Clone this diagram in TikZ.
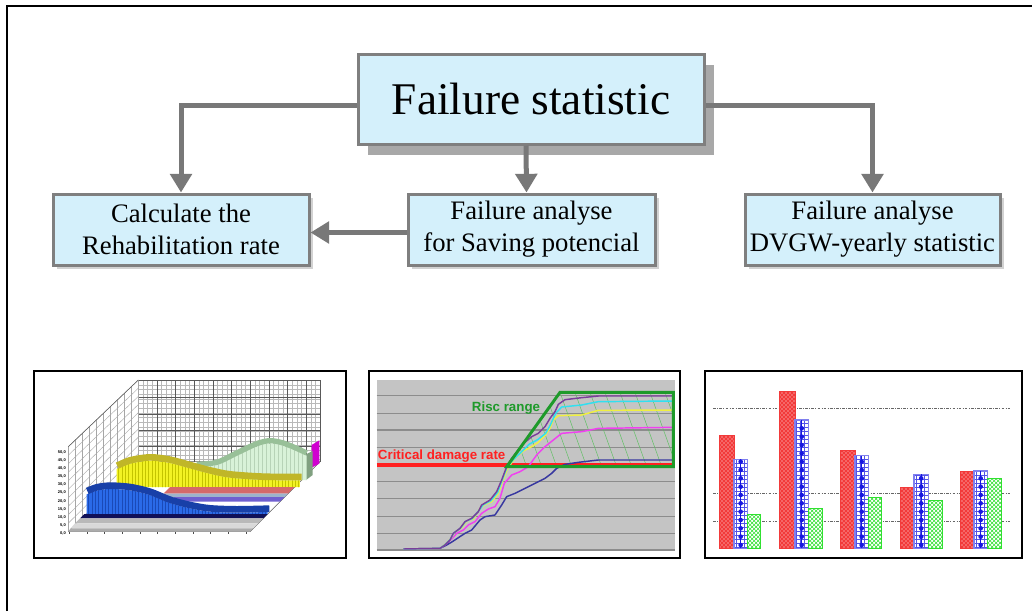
\documentclass[tikz,border=0pt]{standalone}
\usepackage{fontspec}
\setmainfont{Liberation Serif}
\setsansfont{Liberation Sans}
\usetikzlibrary{arrows.meta,calc,patterns,shadows}
\definecolor{boxfill}{HTML}{D4F0FB}
\definecolor{boxborder}{HTML}{7F7F7F}
\definecolor{arrowgray}{HTML}{787878}
\definecolor{shadowgray}{HTML}{A8A8A8}
\definecolor{lgface}{HTML}{D8F2D8}
\definecolor{lgtop}{HTML}{98C098}
\definecolor{lgend}{HTML}{80A080}
\definecolor{yface}{HTML}{F2F224}
\definecolor{ystripe}{HTML}{C4C400}
\definecolor{ytop}{HTML}{C0B628}
\definecolor{salmon}{HTML}{D46A6A}
\definecolor{bgray}{HTML}{9CB4CC}
\definecolor{bpurple}{HTML}{7060D0}
\definecolor{bface}{HTML}{2A6AE8}
\definecolor{bstripe}{HTML}{1A4AB8}
\definecolor{btop}{HTML}{1840A8}
\definecolor{navyb}{HTML}{101058}
\definecolor{mag}{HTML}{D000D0}
\definecolor{ctwogray}{HTML}{C4C4C4}
\definecolor{ctwogrid}{HTML}{8C8C8C}
\definecolor{riscgreen}{HTML}{1E9A2A}
\definecolor{hatchgreen}{HTML}{5CC060}
\definecolor{cpurple}{HTML}{7A3F9A}
\definecolor{ccyan}{HTML}{30E0F0}
\definecolor{cyellow}{HTML}{F0F040}
\definecolor{cmag}{HTML}{F040F0}
\definecolor{cnavy}{HTML}{3838A0}
\definecolor{cred}{HTML}{FF2020}
\definecolor{bred}{HTML}{F23A3A}
\definecolor{bblue}{HTML}{1818E0}
\definecolor{bgreen}{HTML}{30E030}
\tikzset{
  fbox/.style={draw=boxborder, line width=2.25pt, fill=boxfill, inner sep=0pt, align=center},
  sbox/.style={fbox, minimum height=53.25pt, font=\fontsize{20}{24}\selectfont,
    drop shadow={shadow xshift=3pt, shadow yshift=-3pt, fill=gray!35, opacity=1}},
  arr/.style={draw=arrowgray, line width=3.75pt, -{Triangle[length=14pt,width=16pt]}},
  frame/.style={draw=black, line width=1.5pt},
  gridthin/.style={gray!55, line width=0.25pt},
  gridthick/.style={black!65, line width=0.4pt},
  curve/.style={line width=1.1pt, line join=round},
  redbar/.style={preaction={fill=bred}, pattern=crosshatch dots, pattern color=white, draw=bred, line width=0.6pt},
  bluebar/.style={preaction={fill=white}, pattern=grid, pattern color=bblue!75, draw=bblue!55, line width=1pt},
  greenbar/.style={preaction={fill=white}, pattern=crosshatch, pattern color=bgreen, draw=bgreen, line width=0.6pt},
  dotline/.style={black!60, line width=0.7pt, dash pattern=on 2pt off 1pt on 0.6pt off 1pt},
}
\begin{document}
\begin{tikzpicture}[x=0.75pt,y=-0.75pt]
\useasboundingbox (0,0) rectangle (1032,611);
\fill[white] (0,0) rectangle (1032,611);
\draw[line width=1.5pt] (7,611) -- (7,6) -- (1032,6);

% ---------- flow chart ----------
\node[fbox, minimum width=259.5pt, minimum height=67.5pt, font=\fontsize{34}{40}\selectfont,
  drop shadow={shadow xshift=7.5pt, shadow yshift=-8pt, fill=shadowgray, opacity=1}] (main) at (531,99) {Failure statistic};
\node[sbox, minimum width=192pt] (calc) at (181,229.5) {Calculate the\\Rehabilitation rate};
\node[sbox, minimum width=185.25pt] (sav) at (531.5,229.5) {Failure analyse\\for Saving potencial};
\node[sbox, minimum width=191.25pt] (dvgw) at (872.5,229.5) {Failure analyse\\DVGW-yearly statistic};

\draw[arr] ($(main.west)+(0,6)$) -| (calc.north);
\draw[arr] ($(main.east)+(0,6)$) -| (dvgw.north);
\draw[arr] ($(main.south)+(-5,0)$) -- ($(sav.north)+(-5,0)$);
\draw[arr] ($(sav.west)+(0,3)$) -- ($(calc.east)+(0,3)$);

% ---------- chart 1 : 3D area chart ----------
\begin{scope}[shift={(30,365)},scale=1/3]
  % back wall
  \foreach \x in {325,339,...,870} \draw[gridthin] (\x,45)--(\x,290);
  \foreach \y in {59,73,...,290} \draw[gridthin] (325,\y)--(870,\y);
  \foreach \x in {325,381,...,870} \draw[gridthick] (\x,45)--(\x,290);
  \foreach \y in {45,97,148,197,245} \draw[gridthick] (325,\y)--(870,\y);
  \draw[gridthick] (870,45)--(870,290);
  % left wall
  \foreach \t in {0,0.1,0.2,0.3,0.4,0.5,0.6,0.7,0.8,0.9,1} \draw[gray!70,line width=0.3pt] (115,{245+\t*255}) -- (325,{45+\t*245});
  \foreach \k in {0,...,10} \draw[gray!70,line width=0.3pt] ({115+\k*21},{245-\k*20}) -- ({115+\k*21},{500-\k*21});
  \draw[gridthick] (115,245)--(325,45);
  % floor
  \draw[gridthick] (115,500)--(660,500)--(870,290)--(325,290);
  \foreach \k in {0,...,10} \draw[black!70,line width=0.4pt] ({118+\k*53},500)--({118+\k*53},507);
  % magenta back piece
  \fill[mag] (845,240)--(868,226)--(868,296)--(845,308)--cycle;
  \fill[mag] (492,300)--(512,295)--(512,306)--(492,310)--cycle;
  % light green series
  \fill[lgend] (828,268)--(848,258)--(848,330)--(828,345)--cycle;
  \begin{scope}
    \clip plot[smooth] coordinates {(500,306)(560,300)(620,272)(680,244)(720,235)(760,242)(800,258)(830,272)} -- (830,345) -- (500,345) -- cycle;
    \fill[lgface] (490,220) rectangle (840,350);
    \foreach \x in {505,517,...,830} \draw[lgtop!70,line width=0.3pt] (\x,220)--(\x,350);
  \end{scope}
  \draw[lgtop,line width=4pt] plot[smooth] coordinates {(500,298)(560,292)(620,264)(680,236)(720,227)(760,234)(800,250)(830,264)};
  % yellow series
  \begin{scope}
    \clip plot[smooth] coordinates {(260,312)(300,296)(360,287)(420,294)(480,310)(540,326)(600,338)(700,345)(810,346)} -- (810,366) -- (260,366) -- cycle;
    \fill[yface] (250,270) rectangle (820,370);
    \foreach \x in {266,276,...,810} \draw[ystripe,line width=0.35pt] (\x,270)--(\x,370);
  \end{scope}
  \draw[ytop,line width=5pt] plot[smooth] coordinates {(262,302)(300,286)(360,277)(420,284)(480,300)(540,316)(600,328)(700,335)(815,336)};
  % flat bands
  \fill[salmon] (400,386)--(420,366)--(794,366)--(774,386)--cycle;
  \fill[bgray] (390,396)--(400,386)--(774,386)--(764,396)--cycle;
  \fill[bpurple] (420,410)--(434,396)--(764,396)--(750,410)--cycle;
  % blue series
  \begin{scope}
    \clip plot[smooth] coordinates {(170,388)(200,377)(240,372)(300,376)(360,390)(420,414)(480,430)(540,440)(620,443)(713,441)} -- (713,447) -- (170,447) -- cycle;
    \fill[bface] (160,360) rectangle (720,450);
    \foreach \x in {176,186,...,713} \draw[bstripe,line width=0.35pt] (\x,360)--(\x,450);
  \end{scope}
  \draw[btop,line width=5pt] plot[smooth] coordinates {(172,378)(200,367)(240,362)(300,366)(360,380)(420,404)(480,420)(540,430)(620,433)(718,431)};
  \fill[navyb] (150,460)--(163,447)--(713,447)--(700,460)--cycle;
  \fill[gray!55] (135,475)--(150,460)--(700,460)--(685,475)--cycle;
  \fill[gray!30] (122,490)--(135,475)--(685,475)--(670,490)--cycle;
  \fill[gray!65] (115,500)--(122,490)--(670,490)--(660,500)--cycle;
  % y axis labels
  \foreach \v [count=\i from 0] in {50,45,40,35,30,25,20,15,10,5,0}
    \node[font=\sffamily\bfseries\fontsize{3}{3.5}\selectfont, inner sep=0pt, anchor=east] (ylab\i) at (108,{262+\i*24.3}) {\v,0};
  \draw[frame] (12,18) rectangle (948,580);
\end{scope}

% ---------- chart 2 : risk range ----------
\begin{scope}[shift={(365,365)},scale=1/3]
  \fill[ctwogray] (35,45) rectangle (930,556);
  \foreach \y in {92,145,195,248,350,400,455,505,555} \draw[ctwogrid,line width=1pt] (35,\y)--(930,\y);
  \begin{scope}
    \clip (425,305)--(585,82)--(925,82)--(925,305)--cycle;
    \foreach \x in {360,405,...,1000} \draw[hatchgreen,line width=0.35pt] (\x,82)--({\x+80},305);
  \end{scope}
  \draw[cred,line width=2.4pt] (35,300)--(925,300);
  \draw[curve,cnavy] (115,552)--(225,550)--(245,540)--(262,530)--(280,518)--(300,505)--(320,495)--(345,465)--(360,455)--(390,450)--(410,420)--(425,395)--(450,385)--(480,370)--(510,355)--(540,340)--(560,325)--(575,310)--(600,298)--(640,292)--(700,285)--(925,285);
  \draw[curve,cmag] (115,552)--(225,550)--(245,535)--(262,520)--(275,505)--(295,495)--(310,480)--(330,470)--(350,445)--(370,432)--(390,425)--(405,400)--(418,355)--(440,330)--(465,320)--(490,305)--(515,270)--(540,245)--(565,225)--(590,205)--(650,200)--(700,190)--(925,187);
  \draw[curve,cyellow] (115,552)--(225,550)--(240,538)--(258,520)--(270,500)--(290,488)--(305,468)--(325,462)--(345,430)--(360,418)--(380,410)--(400,385)--(412,350)--(428,310)--(450,280)--(475,258)--(500,245)--(520,232)--(540,212)--(555,190)--(565,165)--(580,152)--(650,150)--(700,136)--(925,135);
  \draw[curve,ccyan] (115,552)--(225,550)--(240,539)--(256,523)--(267,503)--(287,489)--(302,469)--(322,461)--(342,436)--(355,419)--(378,407)--(398,382)--(411,347)--(426,307)--(445,284)--(468,262)--(492,238)--(518,224)--(542,205)--(556,180)--(572,145)--(590,126)--(650,120)--(700,110)--(925,108);
  \draw[curve,cpurple] (115,552)--(225,550)--(240,540)--(255,525)--(265,505)--(285,490)--(300,470)--(320,460)--(340,440)--(350,420)--(375,405)--(395,380)--(410,345)--(425,305)--(440,280)--(460,255)--(480,232)--(500,215)--(520,205)--(540,185)--(555,160)--(570,140)--(580,118)--(600,104)--(650,98)--(700,93)--(925,93);
  \draw[riscgreen,line width=2.2pt,line join=miter] (425,305)--(585,82)--(925,82)--(925,305)--cycle;
  \node[font=\sffamily\bfseries\fontsize{10}{12}\selectfont, text=cred, inner sep=0pt, anchor=base west] (crit) at (38,284) {Critical damage rate};
  \node[font=\sffamily\bfseries\fontsize{10}{12}\selectfont, text=riscgreen, inner sep=0pt, anchor=base west] (risc) at (320,138) {Risc range};
  \draw[frame] (12,18) rectangle (945,580);
\end{scope}

% ---------- chart 3 : bar chart ----------
\begin{scope}[shift={(700,365)},scale=1/3]
  \foreach \y in {130,385,468} \draw[dotline] (40,\y)--(930,\y);
  \foreach \a/\b/\t in {58/102/210, 238/285/80, 420/465/256, 600/642/368, 780/822/318}
    \path[redbar] (\a,550) rectangle (\b,\t);
  \foreach \a/\b/\t in {102/142/283, 285/325/165, 465/505/272, 642/685/328, 822/862/318}{
    \path[bluebar] (\a,550) rectangle (\b,\t);
    \begin{scope}
      \clip (\a,550) rectangle (\b,\t);
      \pgfmathsetmacro\cx{(\a+\b)/2}
      \pgfmathsetmacro\ytop{\t+6}
      \foreach \yy in {540,515,...,\ytop} \fill[bblue] (\cx,\yy) circle[radius=7];
      \draw[bblue,line width=0.5pt] (\cx,550)--(\cx,\t);
    \end{scope}
  }
  \foreach \a/\b/\t in {142/182/447, 325/368/430, 505/545/398, 685/728/405, 862/905/340}
    \path[greenbar] (\a,550) rectangle (\b,\t);
  \draw[frame] (15,18) rectangle (965,580);
\end{scope}
\end{tikzpicture}
\end{document}
